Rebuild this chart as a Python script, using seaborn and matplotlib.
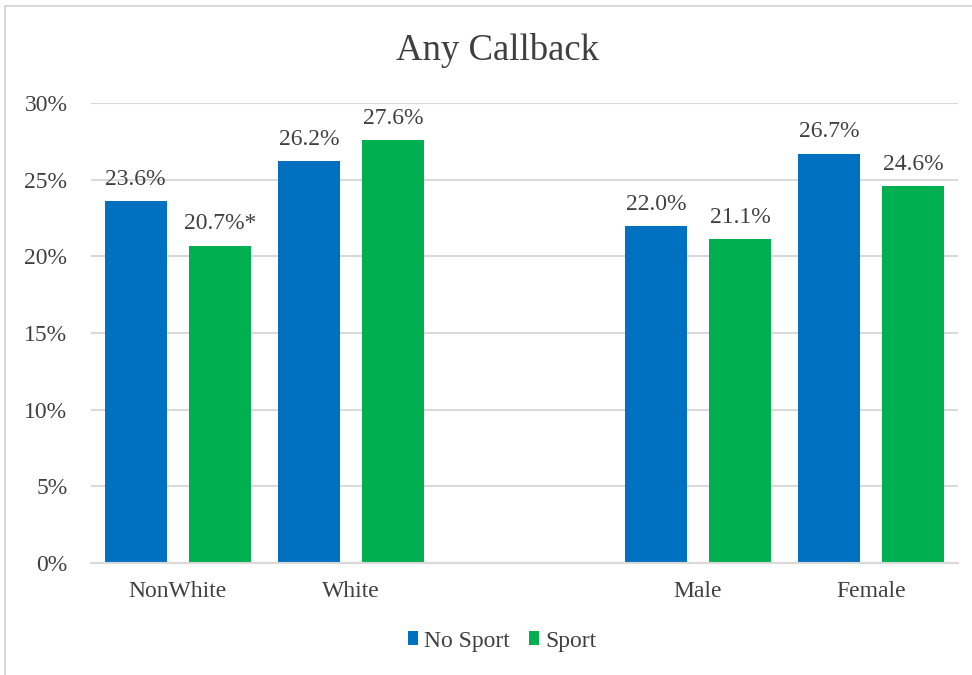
import matplotlib
matplotlib.use("Agg")
import matplotlib.pyplot as plt
import matplotlib.patches as mpatches
from matplotlib.ticker import PercentFormatter
import seaborn as sns
import pandas as pd

categories = ["NonWhite", "White", "Male", "Female"]
order = ["NonWhite", "White", " ", "Male", "Female"]
no_sport = [0.236, 0.262, 0.220, 0.267]
sport = [0.207, 0.276, 0.211, 0.246]
labels_no_sport = ["23.6%", "26.2%", "22.0%", "26.7%"]
labels_sport = ["20.7%*", "27.6%", "21.1%", "24.6%"]
series = ["No Sport", "Sport"]
colors = ["#0070C0", "#00B050"]

df = pd.DataFrame({
    "category": categories * 2,
    "series": [series[0]] * 4 + [series[1]] * 4,
    "value": no_sport + sport,
})

sns.set_theme(style="white")
plt.rcParams["font.family"] = ["Liberation Serif", "DejaVu Serif"]
txt = "#404040"
fs = 17

fig = plt.figure(figsize=(9.72, 6.75), dpi=100)
ax = fig.add_axes([91/972, 1-563/675, (958-91)/972, (563-103)/675])

sns.barplot(data=df, x="category", y="value", hue="series", order=order,
            hue_order=series, palette=colors, width=0.97, gap=0.26,
            ax=ax, legend=True, saturation=1, edgecolor="none")

ax.set_ylim(0, 0.30)
ax.set_yticks([0, 0.05, 0.10, 0.15, 0.20, 0.25, 0.30])
ax.yaxis.set_major_formatter(PercentFormatter(1.0, decimals=0))
ax.grid(axis="y", color="#D9D9D9", linewidth=1.5)
ax.set_axisbelow(True)
for s in ["top", "right", "left"]:
    ax.spines[s].set_visible(False)
ax.spines["bottom"].set_color("#D9D9D9")
ax.spines["bottom"].set_linewidth(1.5)
ax.set_xlabel("")
ax.set_ylabel("")
ax.tick_params(axis="y", length=0, pad=17, labelsize=fs, labelcolor=txt)
ax.tick_params(axis="x", length=0, pad=13, labelsize=fs, labelcolor=txt)

for cont, labs in zip(ax.containers, [labels_no_sport, labels_sport]):
    ax.bar_label(cont, labels=labs, padding=8, fontsize=fs, color=txt)

fig.text(497/972, 1 - 50/675, "Any Callback", fontsize=26.5, color=txt,
         ha="center", va="center")

handles, lbls = ax.get_legend_handles_labels()
ax.get_legend().remove()
leg = fig.legend(handles, lbls, loc="center", bbox_to_anchor=(502/972, 1 - 641/675),
                 ncol=2, frameon=False, fontsize=fs, handlelength=0.45,
                 handleheight=0.55, handletextpad=0.25, columnspacing=0.8,
                 labelcolor=txt, borderaxespad=0, borderpad=0)

fig.patches.append(mpatches.Rectangle((5/972, -0.1), 1.2, 1 - 6/675 + 0.1,
                                      transform=fig.transFigure, fill=False,
                                      edgecolor="#D9D9D9", linewidth=1.5))

fig.savefig("out.png", dpi=100)
